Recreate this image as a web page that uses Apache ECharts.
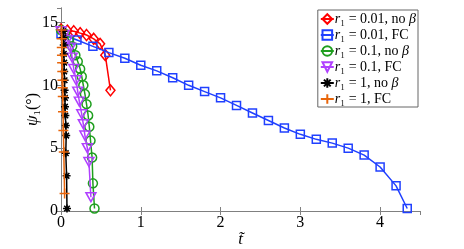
<!DOCTYPE html>
<html><head><meta charset="utf-8">
<script src="https://cdn.jsdelivr.net/npm/echarts@6/dist/echarts.min.js"></script>
<style>html,body{margin:0;padding:0;background:#fff}#c{width:464px;height:249px}</style>
</head><body><div id="c"></div>
<script>
const seriesNames = ['{i|r}₁ = 0.01, no {i|β}', '{i|r}₁ = 0.01, FC', '{i|r}₁ = 0.1, no {i|β}', '{i|r}₁ = 0.1, FC', '{i|r}₁ = 1, no {i|β}', '{i|r}₁ = 1, FC'];
const xTicks = [0, 1, 2, 3, 4];
const yTicks = [0, 5, 10, 15];

const redData = [[0,14.45],[0.08,14.35],[0.16,14.3],[0.24,14.15],[0.32,14.0],[0.41,13.7],[0.49,13.3],[0.555,12.4],[0.62,9.6]];
const blueData = [[0,14.1],[0.2,13.6],[0.4,13.1],[0.6,12.6],[0.8,12.15],[1.0,11.6],[1.2,11.15],[1.4,10.6],[1.6,10.0],[1.8,9.5],[2.0,9.0],[2.2,8.4],[2.4,7.8],[2.6,7.2],[2.8,6.6],[3.0,6.1],[3.2,5.7],[3.4,5.4],[3.6,5.0],[3.8,4.45],[4.0,3.5],[4.2,2.0],[4.34,0.2]];
const greenData = [[0,14.4],[0.05,14.1],[0.1,13.6],[0.14,13.1],[0.18,12.4],[0.21,11.9],[0.24,11.3],[0.26,10.7],[0.28,10.0],[0.3,9.3],[0.32,8.5],[0.34,7.6],[0.355,6.7],[0.37,5.6],[0.39,4.25],[0.40,2.2],[0.42,0.2]];
const purpleData = [[0,14.3],[0.04,14.0],[0.08,13.6],[0.12,13.0],[0.14,12.2],[0.16,11.3],[0.19,10.4],[0.21,9.5],[0.23,8.7],[0.26,7.7],[0.28,6.9],[0.3,6.0],[0.33,5.0],[0.35,3.9],[0.375,1.1]];
const blackData = [[0.03,14.3],[0.03,13.8],[0.035,13.2],[0.035,12.5],[0.04,11.8],[0.04,11.1],[0.045,10.4],[0.045,9.6],[0.05,9.0],[0.05,8.3],[0.055,7.6],[0.06,6.8],[0.065,6.0],[0.06,4.6],[0.07,2.8],[0.075,0.2]];
const orangeData = [[0.005,14.4],[0.008,13.7],[0.01,13.0],[0.012,12.4],[0.014,11.8],[0.016,11.1],[0.018,10.4],[0.02,9.8],[0.022,9.1],[0.025,7.9],[0.03,6.4],[0.035,4.7],[0.045,1.4]];

const colors = ['#ff0000', '#2040ff', '#1e9e1e', '#b040ff', '#000000', '#e8650a'];
const datasets = [redData, blueData, greenData, purpleData, blackData, orangeData];
const symbols = [
  'diamond', 'rect', 'circle', 'path://M0,0L10,0L5,10Z',
  'path://M5,0L5,10M0,5L10,5M1.5,1.5L8.5,8.5M1.5,8.5L8.5,1.5',
  'path://M5,0L5,10M0,5L10,5'
];
const sizes = [[9,11], 8, 9, [10,9], 8, 10];

const chart = echarts.init(document.getElementById('c'), null, {renderer: 'canvas'});
const font = 'Liberation Serif';
const series = datasets.map((d, i) => ({
  name: seriesNames[i],
  type: 'line',
  data: d,
  xAxisIndex: 0, yAxisIndex: 0,
  symbol: symbols[i],
  symbolSize: sizes[i],
  showAllSymbol: true,
  lineStyle: {color: colors[i], width: 1.5},
  itemStyle: {color: 'rgba(255,255,255,0)', borderColor: colors[i], borderWidth: 1.5},
  emphasis: {disabled: true},
  animation: false,
  z: 2 + i
}));

const axisCommon = {
  type: 'value',
  axisLine: {show: true, lineStyle: {color: '#808080', width: 1}},
  axisTick: {show: true, inside: true, length: 4, lineStyle: {color: '#808080'}},
  splitLine: {show: false}
};

chart.setOption({
  animation: false,
  backgroundColor: '#fff',
  grid: {left: 61, right: 44, top: 8, bottom: 38, containLabel: false, outerBoundsMode: 'none'},
  xAxis: [
    Object.assign({}, axisCommon, {
      min: 0, max: 4.5, interval: 1, position: 'bottom',
      name: 't\u0303', nameLocation: 'middle', nameGap: 20, nameMoveOverlap: false,
      nameTextStyle: {fontFamily: font, fontStyle: 'italic', fontSize: 17, color: '#000'},
      axisLabel: {fontFamily: font, fontSize: 16, color: '#000', margin: 4, showMaxLabel: false,
        formatter: v => xTicks.includes(v) ? String(v) : ''}
    }),
    Object.assign({}, axisCommon, {
      min: 0, max: 4.5, interval: 1, position: 'top',
      axisLabel: {show: false}
    })
  ],
  yAxis: [
    Object.assign({}, axisCommon, {
      min: 0, max: 16.15, interval: 5, position: 'left',
      name: '{i|ψ}₁(°)', nameLocation: 'middle', nameGap: 20, nameRotate: 90, nameMoveOverlap: false,
      nameTextStyle: {fontFamily: font, fontSize: 16, color: '#000', rich: {i: {fontFamily: font, fontStyle: 'italic', fontSize: 17}}},
      axisLabel: {fontFamily: font, fontSize: 16, color: '#000', margin: 3, showMaxLabel: false,
        formatter: v => yTicks.includes(v) ? String(v) : ''}
    }),
    Object.assign({}, axisCommon, {
      min: 0, max: 16.15, interval: 5, position: 'right',
      axisLabel: {show: false}
    })
  ],
  legend: {
    orient: 'vertical',
    right: 46, top: 10,
    backgroundColor: '#fff',
    borderColor: '#666', borderWidth: 1,
    padding: [2, 2, 1, 2],
    itemGap: 2, itemWidth: 13, itemHeight: 12,
    textStyle: {fontFamily: font, fontSize: 14, lineHeight: 13, color: '#000', padding: [0,0,0,-4],
      rich: {i: {fontFamily: font, fontStyle: 'italic', fontSize: 14, lineHeight: 13}}},
    data: seriesNames.map((n, i) => ({name: n, itemStyle: {color: 'rgba(255,255,255,0)', borderColor: colors[i], borderWidth: 2}}))
  },
  series: series
});
</script></body></html>
